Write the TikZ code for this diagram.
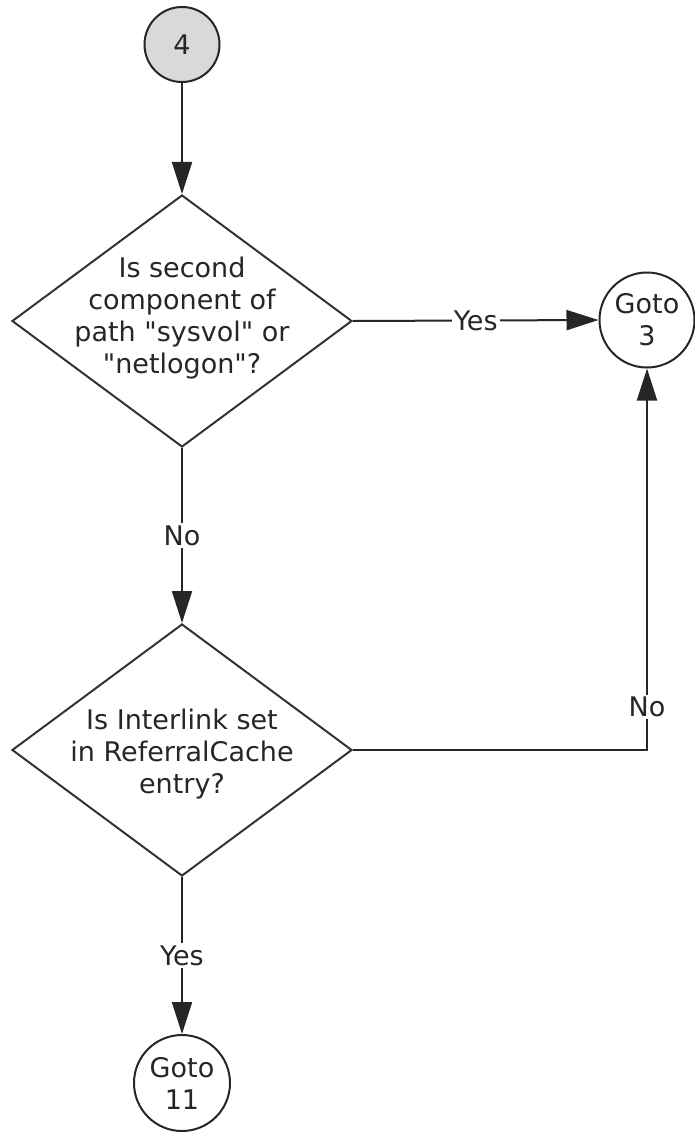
\documentclass[tikz,border=0pt]{standalone}
\usepackage{fontspec}
\setmainfont{DejaVu Sans}[Ligatures=TeXOff]
\usetikzlibrary{positioning,shapes.geometric,arrows.meta}

\begin{document}
\begin{tikzpicture}[x=1pt,y=1pt]
\tikzstyle{every node}+=[font=\fontsize{27}{32}\selectfont, text=black!85]
\tikzstyle{conn}=[draw=black!85, line width=2pt]
\tikzstyle{flow}=[conn, -{Triangle[length=32pt,width=20pt]}]
\tikzstyle{decision}=[diamond, draw=black!80, line width=2pt, minimum width=340pt, minimum height=252pt, inner sep=0pt]
\tikzstyle{asktext}=[align=center, inner sep=0pt]
\tikzstyle{onpage}=[circle, draw=black!85, line width=2pt, inner sep=0pt, align=center]
\tikzstyle{edgelabel}=[fill=white, inner sep=2pt]
\useasboundingbox (0,0) rectangle (695,-1134);
% connectors from the start circle
\node[onpage, fill=black!15, minimum size=75pt] (start4) at (182,-44.5) {4};
\node[decision] (qsysvol) at (182,-321) {};
\node[asktext] (qsysvoltext) at (182,-318) {Is second\\component of\\path "sysvol" or\\"netlogon"?};
\node[onpage, minimum size=95pt] (goto3) at (647,-320) {Goto\\3};
\node[decision] (qinterlink) at (182,-750) {};
\node[asktext] (qinterlinktext) at (182,-754) {Is Interlink set\\in ReferralCache\\entry?};
\node[onpage, minimum size=96pt] (goto11) at (182,-1083) {Goto\\11};
\draw[flow] (start4.south) -- (qsysvol.north);
\draw[flow] (qsysvol.east) -- node[edgelabel] {Yes} (goto3.west);
\draw[flow] (qsysvol.south) -- node[edgelabel] {No} (qinterlink.north);
\draw[flow] (qinterlink.east) -| node[edgelabel, pos=0.556] {No} (goto3.south);
\draw[flow] (qinterlink.south) -- node[edgelabel] {Yes} (goto11.north);
\end{tikzpicture}
\end{document}
